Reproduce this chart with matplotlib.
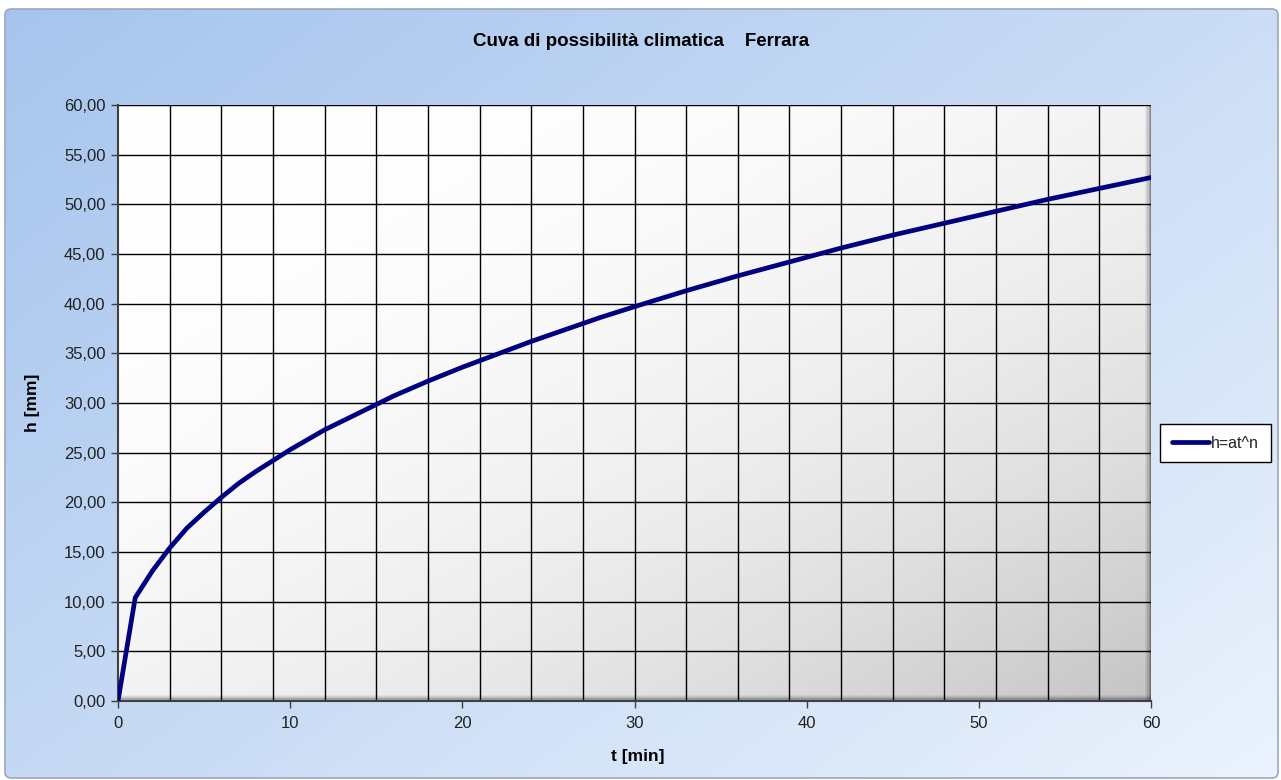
import numpy as np
import matplotlib
matplotlib.use("Agg")
import matplotlib.pyplot as plt
from matplotlib.patches import FancyBboxPatch, Rectangle
from matplotlib.ticker import MultipleLocator, FuncFormatter

plt.rcParams['font.family'] = ['Liberation Sans', 'DejaVu Sans']

# ---- data ----
t_min = [0, 1, 2, 3, 4, 5, 6, 7, 8, 9, 10, 12, 14, 16, 18, 20, 22, 24, 26, 28,
         30, 33, 36, 39, 42, 45, 48, 51, 54, 57, 60]
h_mm = [0.0, 10.4, 13.1, 15.4, 17.4, 19.0, 20.5, 21.9, 23.1, 24.2, 25.3, 27.3,
        29.0, 30.7, 32.2, 33.6, 34.9, 36.2, 37.4, 38.6, 39.7, 41.3, 42.8, 44.2,
        45.6, 46.9, 48.1, 49.3, 50.5, 51.6, 52.7]
series_label = "h=at^n"
title = "Cuva di possibilità climatica    Ferrara"
x_label = "t [min]"
y_label = "h [mm]"

W, H = 1281, 780
fig = plt.figure(figsize=(W / 100, H / 100), dpi=100)
fig.patch.set_facecolor('white')

# ---- outer chart-area background with diagonal gradient ----
bg = fig.add_axes([0, 0, 1, 1], zorder=-10)
bg.set_xlim(0, W)
bg.set_ylim(H, 0)
bg.axis('off')
gx, gy = np.meshgrid(np.linspace(0, 1, 256), np.linspace(0, 1, 256))
g = np.clip(0.55 * gx + 0.45 * gy, 0, 1)
c0 = np.array([0.65, 0.77, 0.93])
c1 = np.array([0.92, 0.95, 0.99])
img = c0[None, None, :] * (1 - g[..., None]) + c1[None, None, :] * g[..., None]
x0, y0, x1, y1 = 5, 9, 1278, 778
clip = FancyBboxPatch((x0, y0), x1 - x0, y1 - y0,
                      boxstyle="round,pad=0,rounding_size=6",
                      facecolor='none', edgecolor='#9aa8bc', linewidth=1.2)
bg.add_patch(clip)
im = bg.imshow(img, extent=(x0, x1, y1, y0), aspect='auto', interpolation='bilinear')
im.set_clip_path(clip)

# ---- plot area ----
L, R, T, B = 118, 1151, 105, 701
ax = fig.add_axes([L / W, 1 - B / H, (R - L) / W, (B - T) / H])
ax.set_xlim(0, 60)
ax.set_ylim(0, 60)

px, py = np.meshgrid(np.linspace(0, 1, 256), np.linspace(0, 1, 256))
pg = np.clip(0.5 * px + 0.5 * py, 0, 1) ** 2.3
p0 = np.array([1.0, 1.0, 1.0])
p1 = np.array([0.77, 0.77, 0.77])
pimg = p0[None, None, :] * (1 - pg[..., None]) + p1[None, None, :] * pg[..., None]
ax.imshow(pimg, extent=(0, 1, 0, 1), origin='upper', transform=ax.transAxes,
          aspect='auto', interpolation='bilinear', zorder=0)

# inner shadow on right and bottom edges
for i, a in enumerate([0.45, 0.3, 0.18, 0.1, 0.05]):
    ax.add_patch(Rectangle((1 - (i + 1) * 0.0012, 0), 0.0012, 1, transform=ax.transAxes,
                           facecolor='black', alpha=a, edgecolor='none', zorder=0.5))
    ax.add_patch(Rectangle((0, i * 0.0021), 1, 0.0021, transform=ax.transAxes,
                           facecolor='black', alpha=a, edgecolor='none', zorder=0.5))

ax.xaxis.set_major_locator(MultipleLocator(10))
ax.xaxis.set_minor_locator(MultipleLocator(3))
ax.yaxis.set_major_locator(MultipleLocator(5))
ax.grid(False)
for xv in np.arange(3, 60, 3):
    ax.axvline(xv, color='black', linewidth=1.0, zorder=1)
for yv in np.arange(5, 61, 5):
    ax.axhline(yv, color='black', linewidth=1.0, zorder=1)

ax.plot(t_min, h_mm, color='#000080', linewidth=3.4, solid_capstyle='round',
        solid_joinstyle='round', zorder=3, label=series_label)

ax.yaxis.set_major_formatter(FuncFormatter(lambda v, p: f"{v:.2f}".replace('.', ',')))
ax.tick_params(axis='both', which='major', direction='out', length=5, width=1,
               color='#404040', labelsize=12, labelcolor='#222222')
ax.tick_params(axis='x', which='minor', length=0)
ax.tick_params(axis='x', pad=6)
ax.tick_params(axis='y', pad=4)

for s in ['top', 'right']:
    ax.spines[s].set_visible(False)
for s in ['left', 'bottom']:
    ax.spines[s].set_color('#404040')
    ax.spines[s].set_linewidth(1.5)

fig.text(641 / W, 1 - 42 / H, title, ha='center', va='center', fontsize=13.5,
         fontweight='bold', color='black')
fig.text(638 / W, 1 - 756 / H, x_label, ha='center', va='center', fontsize=12.5,
         fontweight='bold', color='black')
fig.text(33 / W, 1 - 403 / H, y_label, ha='center', va='center', fontsize=12.5,
         fontweight='bold', color='black', rotation=90)

leg = ax.legend(loc='center left', bbox_to_anchor=(1160 / W, 1 - 443 / H),
                bbox_transform=fig.transFigure, frameon=True, fancybox=False,
                fontsize=11.5, handlelength=2.3, handletextpad=0.15,
                borderpad=0.75, borderaxespad=0)
leg.get_frame().set_edgecolor('black')
leg.get_frame().set_linewidth(1.0)
leg.get_frame().set_facecolor('white')
leg.get_frame().set_alpha(1)
for txt in leg.get_texts():
    txt.set_color('#222222')

fig.savefig('out.png', dpi=100)
